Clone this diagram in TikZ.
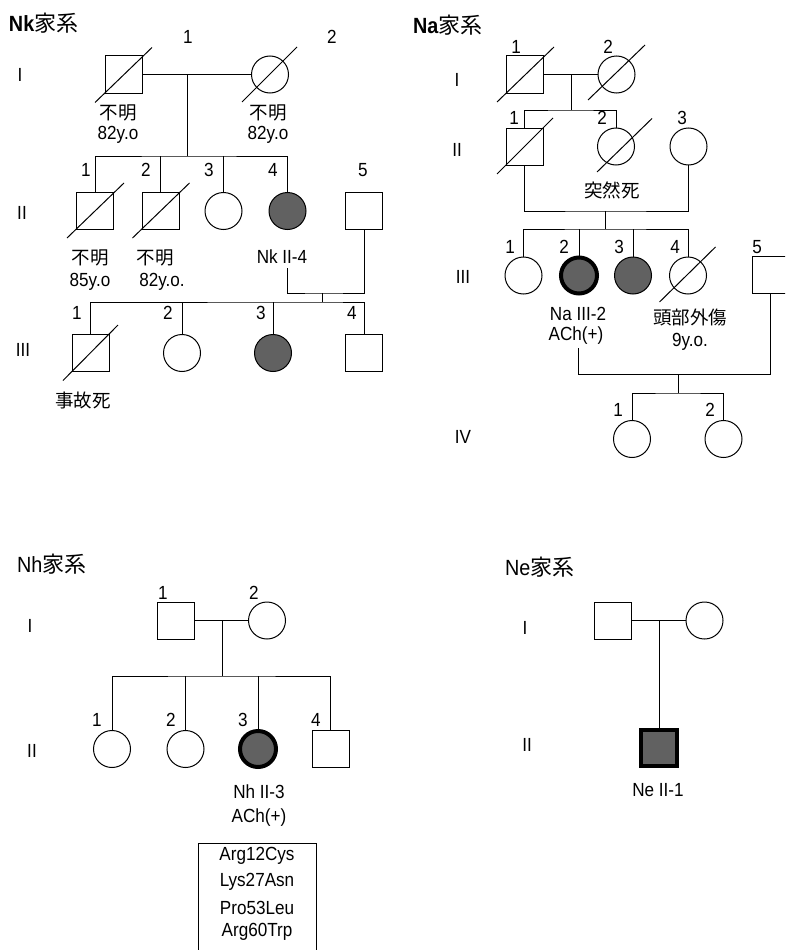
\documentclass[tikz,border=0pt]{standalone}
\usepackage{fontspec}
\setmainfont{Liberation Sans}[FakeStretch=0.9]
\newfontfamily\cjk{Noto Sans CJK JP}
\newcommand\dslash[3]{\draw[slashline] ([shift={(#2)}]#1.center) -- ([shift={(#3)}]#1.center);}
\begin{document}
\begin{tikzpicture}[x=1pt,y=-1pt,
  every node/.style={inner sep=0pt, outer sep=0pt},
  male/.style={draw, rectangle, minimum size=37pt, line width=1pt, fill=white},
  female/.style={draw, circle, minimum size=37pt, line width=1pt, fill=white},
  aff/.style={fill=black!62},
  thickb/.style={line width=4pt, minimum size=36pt},
  lbl/.style={font=\fontsize{19}{22}\selectfont},
  cj/.style={font=\fontsize{18.5}{22}\selectfont\cjk},
  ttl/.style={anchor=west, font=\fontsize{22}{26}\selectfont},
  conn/.style={line width=1pt},
  slashline/.style={line width=1pt}]
\clip (0,0) rectangle (785,950);
\fill[white] (0,0) rectangle (785,950);

% ================= Nk =================
\node[ttl] (nkt) at (9,23) {\bfseries Nk{\mdseries\cjk 家系}};
\node[lbl] (nkn11) at (188,37) {1};
\node[lbl] (nkn12) at (332,37) {2};
\node[lbl] (nkg1) at (20,75) {I};
\node[lbl] (nkg2) at (22,213) {II};
\node[lbl] (nkg3) at (23,350) {III};

\node[male] (nkI1) at (123.5,74.5) {};
\node[female] (nkI2) at (270,74.5) {};
\coordinate (nkm1) at (187,74.5);
\coordinate (nks1) at (187,156);
\draw[conn] (nkI1) -- (nkI2);
\draw[conn] (nkm1) -- (nks1);
\dslash{nkI1}{-28.5,28}{28.5,-27}
\dslash{nkI2}{-28,27.5}{27,-27.5}
\node[cj] (nkl1a) at (118,113) {不明};
\node[lbl] (nkl1b) at (118,135) {82y.o};
\node[cj] (nkl2a) at (268,113) {不明};
\node[lbl] (nkl2b) at (268,135) {82y.o};

\node[male] (nkII1) at (95,211) {};
\node[male] (nkII2) at (160.5,211) {};
\node[female] (nkII3) at (223.5,211) {};
\node[female,aff] (nkII4) at (287.5,211) {};
\node[male] (nkII5) at (364,211) {};
\draw[conn] (nkII1.north) |- (nks1) -| (nkII4.north);
\draw[conn] (nkII2.north) -- (nkII2.north |- nks1);
\draw[conn] (nkII3.north) -- (nkII3.north |- nks1);
\dslash{nkII1}{-28,27}{29,-28}
\dslash{nkII2}{-28,27}{29,-28}
\node[lbl] (nkn21) at (86,170) {1};
\node[lbl] (nkn22) at (146,170) {2};
\node[lbl] (nkn23) at (209,170) {3};
\node[lbl] (nkn24) at (273,170) {4};
\node[lbl] (nkn25) at (363,170) {5};
\node[cj] (nkl3a) at (90,258) {不明};
\node[lbl] (nkl3b) at (90,282) {85y.o};
\node[cj] (nkl4a) at (155,258) {不明};
\node[lbl] (nkl4b) at (162,282) {82y.o.};
\node[lbl] (nkl5) at (282,257) {Nk II-4};

\coordinate (nkc1) at (287.5,268);
\coordinate (nkm2) at (322,293);
\coordinate (nks2) at (322,302);
\draw[conn] (nkc1) |- (nkm2) -| (nkII5.south);
\draw[conn] (nkm2) -- (nks2);

\node[male] (nkIII1) at (90.5,353) {};
\node[female] (nkIII2) at (182,353) {};
\node[female,aff] (nkIII3) at (273,353) {};
\node[male] (nkIII4) at (364,353) {};
\draw[conn] (nkIII1.north) |- (nks2) -| (nkIII4.north);
\draw[conn] (nkIII2.north) -- (nkIII2.north |- nks2);
\draw[conn] (nkIII3.north) -- (nkIII3.north |- nks2);
\dslash{nkIII1}{-27.5,27.5}{27.5,-28}
\node[lbl] (nkn31) at (77,313) {1};
\node[lbl] (nkn32) at (168,313) {2};
\node[lbl] (nkn33) at (261,313) {3};
\node[lbl] (nkn34) at (352,313) {4};
\node[cj] (nkl6) at (83,400) {事故死};

% ================= Na =================
\node[ttl] (nat) at (413,25) {\bfseries Na{\mdseries\cjk 家系}};
\node[lbl] (nag1) at (457,80) {I};
\node[lbl] (nag2) at (457,150) {II};
\node[lbl] (nag3) at (463,277) {III};
\node[lbl] (nag4) at (463,437) {IV};

\node[lbl] (nan11) at (516,47) {1};
\node[lbl] (nan12) at (608,47) {2};
\node[male] (naI1) at (524.5,74.5) {};
\node[female] (naI2) at (616.5,74.5) {};
\coordinate (nam1) at (571,74.5);
\coordinate (nas1) at (571,110);
\draw[conn] (naI1) -- (naI2);
\draw[conn] (nam1) -- (nas1);
\dslash{naI1}{-27.5,27.5}{29.5,-27.5}
\dslash{naI2}{-28.5,25.5}{28.5,-29.5}

\node[male] (naII1) at (524.5,146.5) {};
\node[female] (naII2) at (616,146.5) {};
\node[female] (naII3) at (688.5,146.5) {};
\draw[conn] (naII1.north) |- (nas1) -| (naII2.north);
\dslash{naII1}{-27.5,27.5}{28.5,-28.5}
\dslash{naII2}{-19,25.5}{36,-28}
\node[lbl] (nan21) at (514,118) {1};
\node[lbl] (nan22) at (602,118) {2};
\node[lbl] (nan23) at (682,118) {3};
\node[cj] (nal1) at (612,190) {突然死};

\coordinate (nam2) at (605,211);
\coordinate (nas2) at (605,229);
\draw[conn] (naII1.south) |- (nam2) -| (naII3.south);
\draw[conn] (nam2) -- (nas2);

\node[female] (naIII1) at (523.5,275.5) {};
\node[female,aff,thickb] (naIII2) at (579,275.5) {};
\node[female,aff] (naIII3) at (633,275.5) {};
\node[female] (naIII4) at (688,275.5) {};
\node[male] (naIII5) at (770.5,274.5) {};
\draw[conn] (naIII1.north) |- (nas2) -| (naIII4.north);
\draw[conn] (naIII2.north) -- (naIII2.north |- nas2);
\draw[conn] (naIII3.north) -- (naIII3.north |- nas2);
\dslash{naIII4}{-28.5,26.5}{27.5,-28.5}
\node[lbl] (nan31) at (510,247) {1};
\node[lbl] (nan32) at (564,247) {2};
\node[lbl] (nan33) at (619,247) {3};
\node[lbl] (nan34) at (675,247) {4};
\node[lbl] (nan35) at (757,247) {5};
\node[lbl] (nal2) at (578,314) {Na III-2};
\node[lbl] (nal3) at (576,336) {ACh(+)};
\node[cj] (nal4) at (690,318) {頭部外傷};
\node[lbl] (nal5) at (690,342) {9y.o.};

\coordinate (nac1) at (578,348);
\coordinate (nam3) at (678,374.5);
\coordinate (nas3) at (678,393);
\draw[conn] (nac1) |- (nam3) -| (naIII5.south);
\draw[conn] (nam3) -- (nas3);

\node[female] (naIV1) at (632,439) {};
\node[female] (naIV2) at (723.5,439) {};
\draw[conn] (naIV1.north) |- (nas3) -| (naIV2.north);
\node[lbl] (nan41) at (618,410) {1};
\node[lbl] (nan42) at (710,410) {2};

% ================= Nh =================
\node[ttl] (nht) at (17,564) {Nh{\cjk 家系}};
\node[lbl] (nhg1) at (30,626) {I};
\node[lbl] (nhg2) at (32,751) {II};
\node[lbl] (nhn11) at (163,593) {1};
\node[lbl] (nhn12) at (254,593) {2};
\node[male] (nhI1) at (176,620.5) {};
\node[female] (nhI2) at (267,620.5) {};
\coordinate (nhm1) at (222,620.5);
\coordinate (nhs1) at (222,676);
\draw[conn] (nhI1) -- (nhI2);
\draw[conn] (nhm1) -- (nhs1);

\node[female] (nhII1) at (112,749) {};
\node[female] (nhII2) at (185.5,749) {};
\node[female,aff,thickb] (nhII3) at (258,749) {};
\node[male] (nhII4) at (330.5,749) {};
\draw[conn] (nhII1.north) |- (nhs1) -| (nhII4.north);
\draw[conn] (nhII2.north) -- (nhII2.north |- nhs1);
\draw[conn] (nhII3.north) -- (nhII3.north |- nhs1);
\node[lbl] (nhn21) at (97,720) {1};
\node[lbl] (nhn22) at (171,720) {2};
\node[lbl] (nhn23) at (243,720) {3};
\node[lbl] (nhn24) at (316,720) {4};
\node[lbl] (nhl1) at (259,792) {Nh II-3};
\node[lbl] (nhl2) at (259,818) {ACh(+)};
\node[draw, line width=1pt, minimum width=118pt, minimum height=130pt, anchor=north west] (nhbox) at (198,843) {};
\node[lbl] (nhm1t) at (257,856) {Arg12Cys};
\node[lbl] (nhm2t) at (257,882) {Lys27Asn};
\node[lbl] (nhm3t) at (257,908) {Pro53Leu};
\node[lbl] (nhm4t) at (257,932) {Arg60Trp};

% ================= Ne =================
\node[ttl] (net) at (505,567) {Ne{\cjk 家系}};
\node[lbl] (neg1) at (525,628) {I};
\node[lbl] (neg2) at (527,745) {II};
\node[male] (neI1) at (613,620.5) {};
\node[female] (neI2) at (704.5,620.5) {};
\node[male,aff,thickb] (neII1) at (658.5,748) {};
\coordinate (nem1) at (659,620.5);
\draw[conn] (neI1) -- (neI2);
\draw[conn] (nem1) -- (nem1 |- neII1.north);
\node[lbl] (nel1) at (658,790) {Ne II-1};
\end{tikzpicture}
\end{document}
